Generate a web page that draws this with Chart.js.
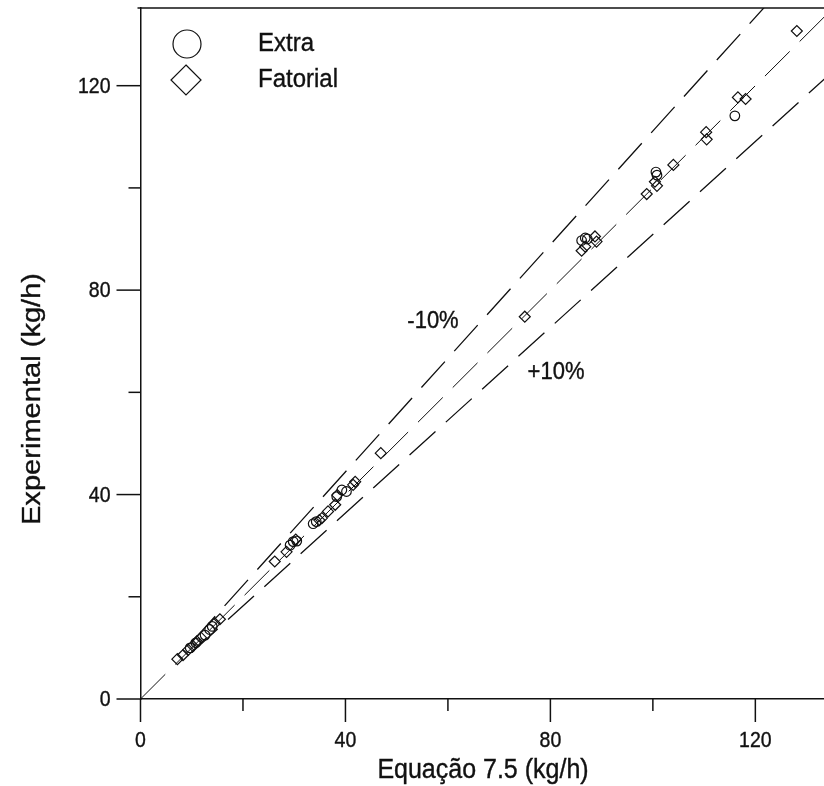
<!DOCTYPE html>
<html>
<head>
<meta charset="utf-8">
<script src="https://cdn.jsdelivr.net/npm/chart.js@4"></script>
<style>
  html, body { margin: 0; padding: 0; background: #fff; }
  #chart { display: block; }
</style>
</head>
<body>
<canvas id="chart" width="824" height="786"></canvas>
<script>
// Experimental vs. Equação 7.5 parity plot, with the y = x line and the
// ±10 % bands. The scanned original has slightly tall text, so labels are
// drawn by a small plugin that stretches them vertically.

// "Extra" runs (circles)
const extraX = [9.7, 10.8, 12.6, 13.5, 14.0, 29.2, 29.8, 30.5, 33.7, 34.3, 38.3, 39.3, 40.2, 86.1, 86.8, 87.2, 100.6, 100.8, 116.0];
const extraY = [10.0, 11.0, 12.5, 13.6, 14.2, 30.1, 30.8, 30.9, 34.3, 34.7, 39.6, 40.9, 40.6, 89.7, 90.2, 90.0, 103.1, 102.5, 114.1];

// "Fatorial" runs (diamonds)
const fatorialX = [7.2, 8.3, 9.3, 10.2, 11.0, 11.8, 14.5, 15.5, 26.2, 28.5, 30.3, 34.9, 35.4, 36.6, 38.0, 38.4, 41.5, 41.9, 46.9,
  75.0, 86.1, 86.8, 88.7, 89.0, 98.8, 100.4, 100.8, 104.0, 110.4, 110.5, 116.6, 118.1, 128.1];
const fatorialY = [7.8, 8.6, 9.6, 10.4, 11.3, 12.0, 14.8, 15.6, 26.9, 28.8, 31.2, 35.0, 35.4, 36.7, 38.0, 39.9, 41.9, 42.5, 48.1,
  74.8, 87.7, 88.5, 90.5, 89.5, 98.8, 101.2, 100.4, 104.5, 110.9, 109.5, 117.7, 117.4, 130.7];

// reference lines: y = x, and the -10 % / +10 % bands
const lineEqualX = [0, 135];
const lineEqualY = [0, 135];
const lineMinusX = [10, 122];
const lineMinusY = [11.1, 135.6];
const linePlusX = [10, 135];
const linePlusY = [9.1, 122.7];

const xTicks = [0, 20, 40, 60, 80, 100, 120];
const yTicks = [0, 20, 40, 60, 80, 100, 120];
const tickLabels = ['0', '', '40', '', '80', '', '120'];

const FONT = '"Liberation Sans", Arial, sans-serif';
const INK = '#111';

function toPoints(xs, ys) {
  return xs.map((x, i) => ({ x, y: ys[i] }));
}

// text drawn taller than wide, like the scan
function drawText(ctx, text, x, y, size, align, stretch, vertical) {
  ctx.save();
  ctx.translate(x, y);
  if (vertical) {
    ctx.rotate(-Math.PI / 2);
    ctx.scale(stretch, 1);
  } else {
    ctx.scale(1, stretch);
  }
  ctx.font = `${size}px ${FONT}`;
  ctx.fillStyle = INK;
  ctx.strokeStyle = INK;
  ctx.lineWidth = 0.35;
  ctx.textAlign = align;
  ctx.textBaseline = 'middle';
  ctx.fillText(text, 0, 0);
  ctx.strokeText(text, 0, 0);
  ctx.restore();
}

const axesPlugin = {
  id: 'parity-axes',
  afterDraw(chart) {
    const ctx = chart.ctx;
    const xs = chart.scales.x;
    const ys = chart.scales.y;
    const area = chart.chartArea;
    ctx.save();
    ctx.strokeStyle = INK;
    ctx.lineWidth = 1.5;

    // top frame line
    ctx.beginPath();
    ctx.moveTo(area.left - 3, area.top);
    ctx.lineTo(area.right, area.top);
    ctx.stroke();

    xTicks.forEach((v, i) => {
      const px = xs.getPixelForValue(v);
      const len = tickLabels[i] ? 23 : 12;
      ctx.beginPath();
      ctx.moveTo(px, area.bottom);
      ctx.lineTo(px, area.bottom + len);
      ctx.stroke();
      if (tickLabels[i]) drawText(ctx, tickLabels[i], px, area.bottom + 42, 19.5, 'center', 1.12, false);
    });
    yTicks.forEach((v, i) => {
      const py = ys.getPixelForValue(v);
      const len = tickLabels[i] ? 24 : 12;
      ctx.beginPath();
      ctx.moveTo(area.left, py);
      ctx.lineTo(area.left - len, py);
      ctx.stroke();
      if (tickLabels[i]) drawText(ctx, tickLabels[i], area.left - 30, py + 1, 19.5, 'right', 1.12, false);
    });

    // axis titles
    drawText(ctx, 'Equação 7.5 (kg/h)', 483, 770, 25, 'center', 1.1, false);
    drawText(ctx, 'Experimental (kg/h)', 33, 399, 25.5, 'center', 1.14, true);

    // band labels
    drawText(ctx, '-10%', 433, 321, 22, 'center', 1.1, false);
    drawText(ctx, '+10%', 556, 372, 22, 'center', 1.1, false);

    // legend
    ctx.lineWidth = 1.2;
    ctx.beginPath();
    ctx.arc(187, 44, 14, 0, Math.PI * 2);
    ctx.stroke();
    ctx.beginPath();
    ctx.moveTo(186, 65);
    ctx.lineTo(201, 80);
    ctx.lineTo(186, 95);
    ctx.lineTo(171, 80);
    ctx.closePath();
    ctx.stroke();
    drawText(ctx, 'Extra', 258, 44, 24, 'left', 1.1, false);
    drawText(ctx, 'Fatorial', 258, 80, 24, 'left', 1.1, false);
    ctx.restore();
  }
};

const dashed = (xs, ys, width) => ({
  type: 'line',
  data: toPoints(xs, ys),
  borderColor: INK,
  borderWidth: width,
  borderDash: [35, 14],
  pointRadius: 0,
  showLine: true,
  fill: false
});

new Chart(document.getElementById('chart').getContext('2d'), {
  type: 'scatter',
  data: {
    datasets: [
      dashed(lineEqualX, lineEqualY, 1),
      dashed(lineMinusX, lineMinusY, 1.3),
      dashed(linePlusX, linePlusY, 1.3),
      {
        label: 'Extra',
        data: toPoints(extraX, extraY),
        pointStyle: 'circle',
        pointRadius: 4.8,
        borderColor: INK,
        backgroundColor: 'rgba(0,0,0,0)',
        borderWidth: 1.2
      },
      {
        label: 'Fatorial',
        data: toPoints(fatorialX, fatorialY),
        pointStyle: 'rectRot',
        pointRadius: 5.5,
        borderColor: INK,
        backgroundColor: 'rgba(0,0,0,0)',
        borderWidth: 1.2
      }
    ]
  },
  options: {
    responsive: false,
    animation: false,
    devicePixelRatio: 1,
    layout: { autoPadding: false, padding: { left: 140.5, right: 0, top: 8, bottom: 87 } },
    plugins: { legend: { display: false }, tooltip: { enabled: false } },
    scales: {
      x: {
        type: 'linear',
        min: 0,
        max: 133.4,
        ticks: { display: false },
        grid: { display: false, drawTicks: false },
        border: { display: true, color: INK, width: 1.5 },
        afterFit: (scale) => { scale.height = 0; }
      },
      y: {
        type: 'linear',
        min: 0,
        max: 135.2,
        ticks: { display: false },
        grid: { display: false, drawTicks: false },
        border: { display: true, color: INK, width: 1.5 },
        afterFit: (scale) => { scale.width = 0; }
      }
    }
  },
  plugins: [axesPlugin]
});
</script>
</body>
</html>
